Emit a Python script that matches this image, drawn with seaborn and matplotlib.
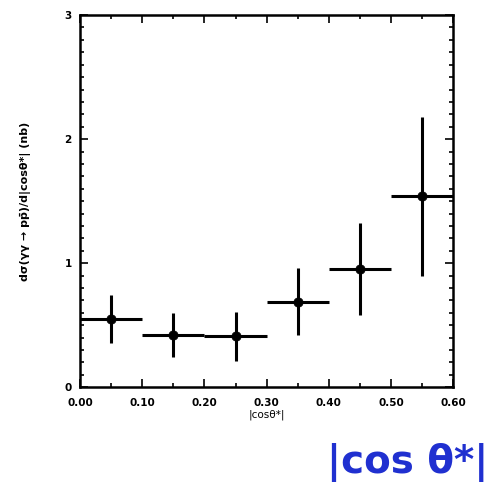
import matplotlib
matplotlib.use("Agg")
import matplotlib.pyplot as plt
import seaborn as sns
import pandas as pd
from matplotlib.ticker import MultipleLocator

bin_centers = [0.05, 0.15, 0.25, 0.35, 0.45, 0.55]
bin_halfwidth = [0.05, 0.05, 0.05, 0.05, 0.05, 0.05]
cross_section = [0.55, 0.42, 0.41, 0.69, 0.95, 1.54]
cs_error = [0.19, 0.18, 0.20, 0.27, 0.37, 0.64]
x_ticks = [0.0, 0.1, 0.2, 0.3, 0.4, 0.5, 0.6]
x_ticklabels = ["0.00", "0.10", "0.20", "0.30", "0.40", "0.50", "0.60"]
y_ticks = [0, 1, 2, 3]

df = pd.DataFrame({"x": bin_centers, "y": cross_section,
                   "xerr": bin_halfwidth, "yerr": cs_error})

sns.set_style("ticks")
plt.rcParams['font.family'] = ['DejaVu Sans']

fig = plt.figure(figsize=(4.91, 4.87), dpi=100)
ax = fig.add_axes([0.163, 0.205, 0.76, 0.764])

ax.errorbar(df["x"], df["y"], xerr=df["xerr"], yerr=df["yerr"],
            fmt="none", ecolor="black", elinewidth=2.2, capsize=0)
sns.scatterplot(data=df, x="x", y="y", ax=ax, color="black", s=45,
                edgecolor="black", zorder=3, legend=False)

ax.set_xlim(0, 0.6)
ax.set_ylim(0, 3)
ax.set_xticks(x_ticks)
ax.set_xticklabels(x_ticklabels)
ax.set_yticks(y_ticks)
ax.xaxis.set_minor_locator(MultipleLocator(0.05))
ax.yaxis.set_minor_locator(MultipleLocator(0.1))
ax.tick_params(which="both", direction="in", top=True, right=True,
               labelsize=7.5, width=1.2, color="black", labelcolor="black")
ax.tick_params(which="major", length=6)
ax.tick_params(which="minor", length=3)
ax.tick_params(axis="x", pad=8)
ax.tick_params(axis="y", pad=6)
for lab in ax.get_xticklabels() + ax.get_yticklabels():
    lab.set_fontweight("bold")
for sp in ax.spines.values():
    sp.set_linewidth(1.8)
    sp.set_color("black")

ax.set_xlabel("|cosθ*|", fontsize=7.5, labelpad=1, color="black")
ax.set_ylabel("dσ(γγ → pp̄)/d|cosθ*| (nb)", fontsize=8, fontweight="bold",
              labelpad=24, color="black")

fig.text(0.995, 0.01, "|cos θ*|", color="#2030d0", fontsize=28,
         fontweight="bold", ha="right", va="bottom")

fig.savefig("out.png", dpi=100)
